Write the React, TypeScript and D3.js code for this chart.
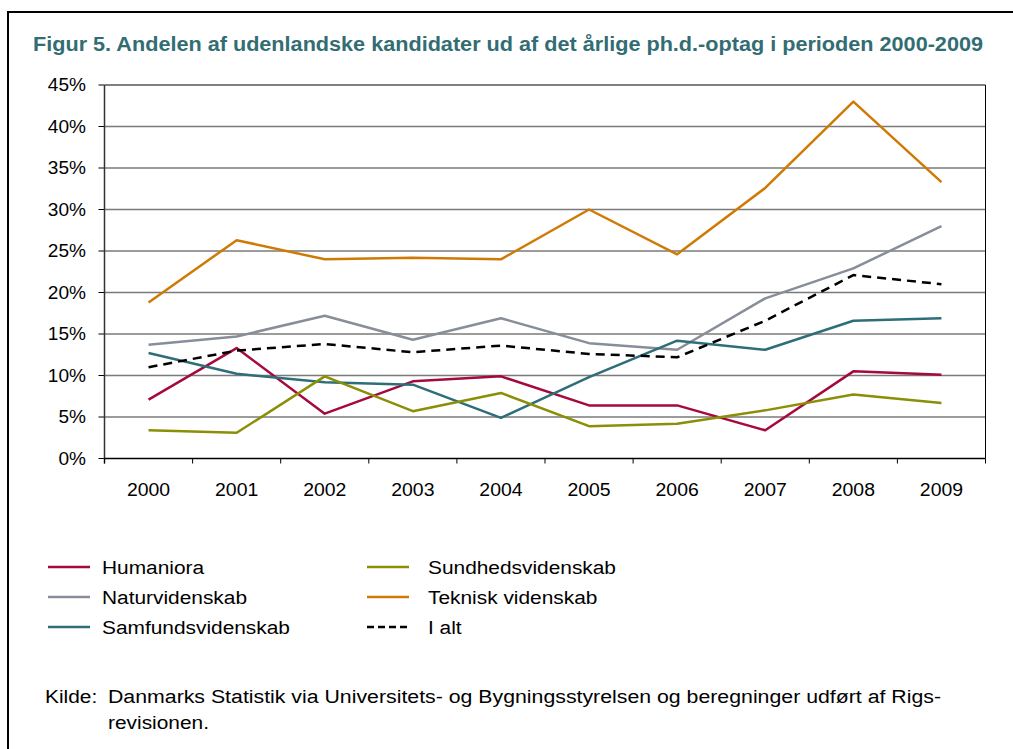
import React from "react";
import * as d3 from "d3";

const years = ["2000", "2001", "2002", "2003", "2004", "2005", "2006", "2007", "2008", "2009"];
const humaniora = [7.1, 13.3, 5.4, 9.3, 9.9, 6.4, 6.4, 3.4, 10.5, 10.1];
const naturvidenskab = [13.7, 14.7, 17.2, 14.3, 16.9, 13.9, 13.1, 19.3, 22.9, 28.0];
const samfundsvidenskab = [12.7, 10.2, 9.2, 8.9, 4.9, 9.8, 14.2, 13.1, 16.6, 16.9];
const sundhedsvidenskab = [3.4, 3.1, 9.9, 5.7, 7.9, 3.9, 4.2, 5.8, 7.7, 6.7];
const tekniskVidenskab = [18.8, 26.3, 24.0, 24.2, 24.0, 30.0, 24.6, 32.6, 43.0, 33.3];
const iAlt = [11.0, 13.0, 13.8, 12.8, 13.6, 12.6, 12.2, 16.6, 22.1, 21.0];
const yTicks = [0, 5, 10, 15, 20, 25, 30, 35, 40, 45];

const series = [
  { name: "Humaniora", values: humaniora, color: "#a6093d", dash: "" },
  { name: "Naturvidenskab", values: naturvidenskab, color: "#878e9a", dash: "" },
  { name: "Samfundsvidenskab", values: samfundsvidenskab, color: "#2e6e78", dash: "" },
  { name: "Sundhedsvidenskab", values: sundhedsvidenskab, color: "#8a8f05", dash: "" },
  { name: "Teknisk videnskab", values: tekniskVidenskab, color: "#d07a06", dash: "" },
  { name: "I alt", values: iAlt, color: "#000000", dash: "9,6" },
];

const legendOrder = [
  ["Humaniora", "Sundhedsvidenskab"],
  ["Naturvidenskab", "Teknisk videnskab"],
  ["Samfundsvidenskab", "I alt"],
];

function T(props: {
  x: number;
  y: number;
  sx: number;
  size: number;
  anchor?: string;
  children: React.ReactNode;
  textLength?: number;
}) {
  return (
    <text
      transform={`translate(${props.x},${props.y}) scale(${props.sx},1)`}
      fontSize={props.size}
      textAnchor={props.anchor || "start"}
      fill="#000"
      textLength={props.textLength}
      lengthAdjust={props.textLength ? "spacingAndGlyphs" : undefined}
    >
      {props.children}
    </text>
  );
}

export default function App() {
  const left = 104.5, right = 985.5, top = 85, bottom = 458.5;
  const x = d3.scaleBand<string>().domain(years).range([left, right]).padding(0);
  const y = d3.scaleLinear().domain([0, 45]).range([bottom, top]);
  const cx = (yr: string) => (x(yr) as number) + x.bandwidth() / 2;
  const line = d3
    .line<number>()
    .x((_, i) => cx(years[i]))
    .y((d) => y(d));
  const font = "'Liberation Sans', Arial, sans-serif";
  const byName = Object.fromEntries(series.map((s) => [s.name, s]));
  const boundaries = [...years.map((yr) => x(yr) as number), right];

  return (
    <svg
      width={1013}
      height={749}
      style={{ position: "absolute", left: 0, top: 0, background: "#fff" }}
      fontFamily={font}
    >
      <rect x={0} y={0} width={1013} height={749} fill="#fff" />
      <rect x={8} y={12} width={1030} height={760} fill="none" stroke="#000" strokeWidth={2} />
      <text
        x={33}
        y={51}
        fontSize={19.5}
        fontWeight="bold"
        fill="#326d74"
        textLength={950}
        lengthAdjust="spacingAndGlyphs"
      >
        Figur 5. Andelen af udenlandske kandidater ud af det årlige ph.d.-optag i perioden 2000-2009
      </text>

      {yTicks.map((t) => (
        <g key={t}>
          {t > 0 && t < 45 && (
            <line x1={left} x2={right} y1={y(t)} y2={y(t)} stroke="#7a7a7a" strokeWidth={1.5} />
          )}
          <line x1={left - 6} x2={left} y1={y(t)} y2={y(t)} stroke="#000" strokeWidth={1} />
          <T x={86} y={y(t) + 6.3} sx={1.09} size={17.5} anchor="end">
            {t}%
          </T>
        </g>
      ))}
      <line x1={left} x2={right} y1={top} y2={top} stroke="#000" strokeWidth={1} />
      <line x1={right} x2={right} y1={top} y2={bottom} stroke="#000" strokeWidth={1} />
      <line x1={left} x2={left} y1={top} y2={bottom + 5} stroke="#333" strokeWidth={1.5} />
      <line x1={left} x2={right} y1={bottom} y2={bottom} stroke="#000" strokeWidth={1.5} />
      {boundaries.map((b, i) => (
        <line key={i} x1={b} x2={b} y1={bottom} y2={bottom + 5} stroke="#000" strokeWidth={1} />
      ))}
      {years.map((yr) => (
        <T key={yr} x={cx(yr)} y={496} sx={1.05} size={18.5} anchor="middle">
          {yr}
        </T>
      ))}

      {series.map((s) => (
        <path
          key={s.name}
          d={line(s.values) || ""}
          fill="none"
          stroke={s.color}
          strokeWidth={2.5}
          strokeDasharray={s.dash || undefined}
          strokeLinejoin="round"
        />
      ))}

      {legendOrder.map((row, r) =>
        row.map((name, c) => {
          const s = byName[name];
          const ly = 567 + r * 30;
          const lx = c === 0 ? 48 : 367;
          const tx = c === 0 ? 102 : 428;
          return (
            <g key={name}>
              <line
                x1={lx}
                x2={lx + 42}
                y1={ly}
                y2={ly}
                stroke={s.color}
                strokeWidth={2.5}
                strokeDasharray={s.dash ? "7,4" : undefined}
              />
              <T x={tx} y={ly + 6.5} sx={1.16} size={18}>
                {name}
              </T>
            </g>
          );
        })
      )}

      <T x={45} y={703} sx={1.16} size={18}>
        Kilde:
      </T>
      <text x={108} y={703} fontSize={18} fill="#000" textLength={833} lengthAdjust="spacingAndGlyphs">
        Danmarks Statistik via Universitets- og Bygningsstyrelsen og beregninger udført af Rigs-
      </text>
      <T x={108} y={729} sx={1.16} size={18}>
        revisionen.
      </T>
    </svg>
  );
}
